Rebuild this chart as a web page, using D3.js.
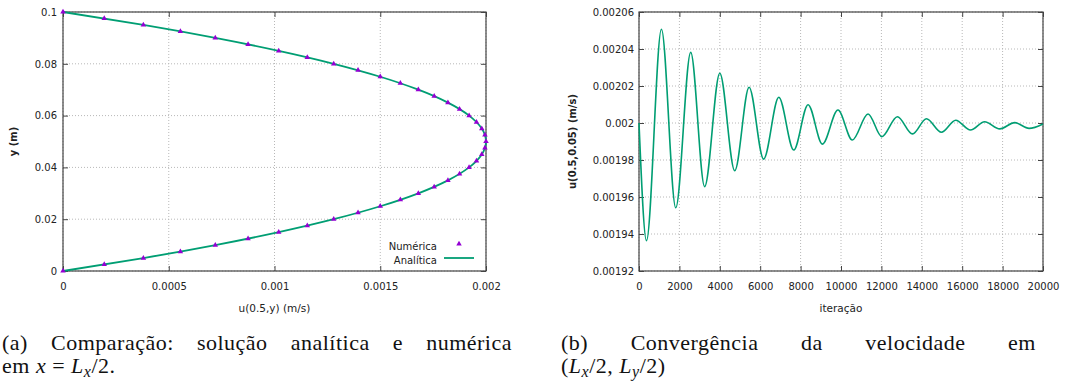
<!DOCTYPE html>
<html>
<head>
<meta charset="utf-8">
<script src="https://cdn.jsdelivr.net/npm/d3@7"></script>
<style>
  body { margin: 0; background: #fff; }
  svg { display: block; }
</style>
</head>
<body>
<svg id="chart" width="1068" height="392"></svg>
<script>
// ---- left chart: velocity profile at x = Lx/2 ----
const yNum = [0, 0.0025, 0.005, 0.0075, 0.01, 0.0125, 0.015, 0.0175, 0.02, 0.0225, 0.025,
  0.0275, 0.03, 0.0325, 0.035, 0.0375, 0.04, 0.0425, 0.045, 0.0475, 0.05,
  0.0525, 0.055, 0.0575, 0.06, 0.0625, 0.065, 0.0675, 0.07, 0.0725, 0.075,
  0.0775, 0.08, 0.0825, 0.085, 0.0875, 0.09, 0.0925, 0.095, 0.0975, 0.1];
const uNum = [0, 0.000195, 0.00038, 0.000555, 0.00072, 0.000875, 0.00102, 0.001155, 0.00128, 0.001395, 0.0015,
  0.001595, 0.00168, 0.001755, 0.00182, 0.001875, 0.00192, 0.001955, 0.00198, 0.001995, 0.002,
  0.001995, 0.00198, 0.001955, 0.00192, 0.001875, 0.00182, 0.001755, 0.00168, 0.001595, 0.0015,
  0.001395, 0.00128, 0.001155, 0.00102, 0.000875, 0.00072, 0.000555, 0.00038, 0.000195, 0];
const yAna = [0, 0.005, 0.01, 0.015, 0.02, 0.025, 0.03, 0.035, 0.04, 0.045, 0.05,
  0.055, 0.06, 0.065, 0.07, 0.075, 0.08, 0.085, 0.09, 0.095, 0.1];
const uAna = [0, 0.00038, 0.00072, 0.00102, 0.00128, 0.0015, 0.00168, 0.00182, 0.00192, 0.00198, 0.002,
  0.00198, 0.00192, 0.00182, 0.00168, 0.0015, 0.00128, 0.00102, 0.00072, 0.00038, 0];
const leftXTicks = [0, 0.0005, 0.001, 0.0015, 0.002];
const leftXLabels = ["0", "0.0005", "0.001", "0.0015", "0.002"];
const leftYTicks = [0, 0.02, 0.04, 0.06, 0.08, 0.1];
const leftYLabels = ["0", "0.02", "0.04", "0.06", "0.08", "0.1"];
const legendNames = ["Numérica", "Analítica"];

// ---- right chart: convergence at (Lx/2, Ly/2) ----
const iters = [0, 370, 1110, 1820, 2560, 3250, 4000, 4740, 5450, 6170, 6920, 7660, 8370, 9080,
  9850, 10560, 11340, 12020, 12790, 13540, 14230, 14970, 15680, 16410, 17110, 17860, 18600, 19310, 20000];
const uConv = [0.002, 0.0019364, 0.0020507, 0.0019542, 0.0020382, 0.0019656, 0.0020269, 0.0019742,
  0.0020193, 0.0019805, 0.0020139, 0.0019854, 0.0020099, 0.0019886, 0.002007, 0.0019908, 0.0020049,
  0.0019926, 0.0020034, 0.0019941, 0.0020023, 0.001995, 0.0020015, 0.0019962, 0.0020007, 0.0019968,
  0.0020002, 0.0019971, 0.0019995];
const rightXTicks = [0, 2000, 4000, 6000, 8000, 10000, 12000, 14000, 16000, 18000, 20000];
const rightXLabels = ["0", "2000", "4000", "6000", "8000", "10000", "12000", "14000", "16000", "18000", "20000"];
const rightYTicks = [0.00192, 0.00194, 0.00196, 0.00198, 0.002, 0.00202, 0.00204, 0.00206];
const rightYLabels = ["0.00192", "0.00194", "0.00196", "0.00198", "0.002", "0.00202", "0.00204", "0.00206"];

const green = "#009e73";
const purple = "#9400d3";
const serif = "'Liberation Serif', 'Times New Roman', serif";
const svg = d3.select("#chart");

function frame(x, y, xt, xl, yt, yl, xTitle, yTitle, yTitleX, ypad) {
    const g = svg.append("g");
    const [x0, x1] = x.range();
    const [y0, y1] = y.range();

    // dotted grid
    g.selectAll(".gx").data(xt).enter().append("line")
        .attr("x1", d => x(d)).attr("x2", d => x(d))
        .attr("y1", y0).attr("y2", y1)
        .attr("stroke", "#b8b8b8").attr("stroke-dasharray", "1,2");
    g.selectAll(".gy").data(yt).enter().append("line")
        .attr("x1", x0).attr("x2", x1)
        .attr("y1", d => y(d)).attr("y2", d => y(d))
        .attr("stroke", "#b8b8b8").attr("stroke-dasharray", "1,2");

    const style = sel => {
        sel.select(".domain").remove();
        sel.selectAll("line").attr("stroke", "#444");
        sel.selectAll("text").attr("font-family", "'DejaVu Sans', sans-serif")
            .attr("font-size", 10).attr("fill", "#222");
    };
    g.append("g").attr("transform", `translate(0,${y0})`)
        .call(d3.axisBottom(x).tickValues(xt).tickSize(-5).tickPadding(12).tickFormat((d, i) => xl[i])).call(style);
    g.append("g").attr("transform", `translate(0,${y1})`)
        .call(d3.axisTop(x).tickValues(xt).tickSize(-5).tickFormat("")).call(style);
    g.append("g").attr("transform", `translate(${x0},0)`)
        .call(d3.axisLeft(y).tickValues(yt).tickSize(-5).tickPadding(ypad).tickFormat((d, i) => yl[i])).call(style);
    g.append("g").attr("transform", `translate(${x1},0)`)
        .call(d3.axisRight(y).tickValues(yt).tickSize(-5).tickFormat("")).call(style);

    g.append("rect").attr("x", x0).attr("y", y1)
        .attr("width", x1 - x0).attr("height", y0 - y1)
        .attr("fill", "none").attr("stroke", "#444").attr("stroke-width", 1.2);

    g.append("text").attr("x", (x0 + x1) / 2).attr("y", 312)
        .attr("text-anchor", "middle").attr("font-family", "'DejaVu Sans', sans-serif")
        .attr("font-size", 10.5).attr("fill", "#222").text(xTitle);
    g.append("text")
        .attr("transform", `translate(${yTitleX},${(y0 + y1) / 2}) rotate(-90)`)
        .attr("text-anchor", "middle").attr("font-family", "'DejaVu Sans', sans-serif")
        .attr("font-size", 10).attr("font-weight", "bold").attr("fill", "#222").text(yTitle);
    return g;
}

// left chart
const xL = d3.scaleLinear().domain([0, 0.002]).range([63, 486]);
const yL = d3.scaleLinear().domain([0, 0.1]).range([271, 12]);
const gL = frame(xL, yL, leftXTicks, leftXLabels, leftYTicks, leftYLabels, "u(0.5,y) (m/s)", "y (m)", 17, 6);

gL.append("path")
    .datum(d3.range(yAna.length))
    .attr("fill", "none").attr("stroke", green).attr("stroke-width", 1.8)
    .attr("d", d3.line().x(i => xL(uAna[i])).y(i => yL(yAna[i])).curve(d3.curveNatural));

const tri = d3.symbol().type(d3.symbolTriangle).size(13);
gL.selectAll(".pt").data(d3.range(yNum.length)).enter().append("path")
    .attr("transform", i => `translate(${xL(uNum[i])},${yL(yNum[i])})`)
    .attr("d", tri).attr("fill", purple);

// legend
const lg = gL.append("g").attr("font-family", "'DejaVu Sans', sans-serif").attr("font-size", 10).attr("fill", "#222");
lg.append("text").attr("x", 437).attr("y", 250).attr("text-anchor", "end").text(legendNames[0]);
lg.append("text").attr("x", 437).attr("y", 264).attr("text-anchor", "end").text(legendNames[1]);
lg.append("path").attr("transform", "translate(459,244)").attr("d", tri).attr("fill", purple);
lg.append("line").attr("x1", 444).attr("x2", 474).attr("y1", 258).attr("y2", 258)
    .attr("stroke", green).attr("stroke-width", 1.8);

// right chart
const xR = d3.scaleLinear().domain([0, 20000]).range([639, 1043]);
const yR = d3.scaleLinear().domain([0.00192, 0.00206]).range([271, 12]);
const gR = frame(xR, yR, rightXTicks, rightXLabels, rightYTicks, rightYLabels, "iteração", "u(0.5,0.05) (m/s)", 576, 5);

gR.append("path")
    .datum(d3.range(iters.length))
    .attr("fill", "none").attr("stroke", green).attr("stroke-width", 1.6)
    .attr("d", d3.line().x(i => xR(iters[i])).y(i => yR(uConv[i])).curve(d3.curveMonotoneX));

// captions (first line justified like LaTeX)
const capSize = 22;
function justified(words, x0, x1, y) {
    const g = svg.append("g");
    const nodes = words.map(w => g.append("text")
        .attr("font-family", serif).attr("font-size", capSize).attr("fill", "#111")
        .attr("letter-spacing", 0.5).attr("y", y).text(w));
    const widths = nodes.map(n => n.node().getComputedTextLength());
    const gap = (x1 - x0 - d3.sum(widths)) / (words.length - 1);
    let cx = x0;
    nodes.forEach((n, i) => { n.attr("x", cx); cx += widths[i] + gap; });
}
justified(["(a)", "Comparação:", "solução", "analítica", "e", "numérica"], 2, 512, 350);
justified(["(b)", "Convergência", "da", "velocidade", "em"], 561, 1036, 350);

function mathLine(x, y, parts) {
    const t = svg.append("text").attr("font-family", serif).attr("font-size", capSize)
        .attr("letter-spacing", 0.5).attr("fill", "#111").attr("x", x).attr("y", y).style("white-space", "pre");
    parts.forEach(p => {
        const s = t.append("tspan").text(p.t);
        if (p.i) s.attr("font-style", "italic");
        if (p.sub) s.attr("font-size", 16).attr("dy", 4);
        if (p.up) s.attr("dy", -4);
    });
}
mathLine(2, 373, [{t: "em "}, {t: "x", i: 1}, {t: " = "}, {t: "L", i: 1}, {t: "x", i: 1, sub: 1}, {t: "/2.", up: 1}]);
mathLine(561, 373, [{t: "("}, {t: "L", i: 1}, {t: "x", i: 1, sub: 1}, {t: "/2, ", up: 1}, {t: "L", i: 1},
    {t: "y", i: 1, sub: 1}, {t: "/2)", up: 1}]);
</script>
</body>
</html>
